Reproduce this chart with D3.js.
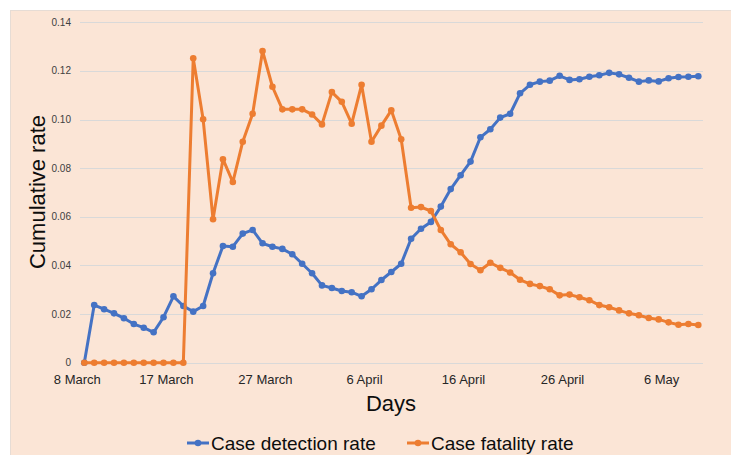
<!DOCTYPE html>
<html>
<head>
<meta charset="utf-8">
<script src="https://cdn.jsdelivr.net/npm/d3@7/dist/d3.min.js"></script>
<style>
  body { margin: 0; background: #fff; }
  svg { display: block; font-family: "Liberation Sans", Arial, sans-serif; }
</style>
</head>
<body>
<div id="chart"></div>
<script>
// daily values, 8 March .. 9 May (63 days)
var detectionRate = [
  0, 0.0237, 0.0220, 0.0203, 0.0183, 0.0159, 0.0144, 0.0125, 0.0187, 0.0273,
  0.0233, 0.0210, 0.0233, 0.0368, 0.0480, 0.0477, 0.0531, 0.0546, 0.0491, 0.0477,
  0.0468, 0.0446, 0.0407, 0.0368, 0.0318, 0.0307, 0.0295, 0.0290, 0.0273, 0.0302,
  0.0340, 0.0373, 0.0407, 0.0510, 0.0551, 0.0579, 0.0642, 0.0714, 0.0771, 0.0827,
  0.0927, 0.0960, 0.1008, 0.1024, 0.1108, 0.1143, 0.1156, 0.1160, 0.1180, 0.1163,
  0.1166, 0.1176, 0.1182, 0.1192, 0.1186, 0.1172, 0.1156, 0.1161, 0.1157, 0.1170,
  0.1175, 0.1176, 0.1178
];

var fatalityRate = [
  0, 0, 0, 0, 0, 0, 0, 0, 0, 0,
  0, 0.1252, 0.1001, 0.0590, 0.0837, 0.0743, 0.0909, 0.1024, 0.1282, 0.1135,
  0.1042, 0.1042, 0.1042, 0.1021, 0.0980, 0.1113, 0.1073, 0.0983, 0.1143, 0.0909,
  0.0975, 0.1038, 0.0919, 0.0637, 0.0640, 0.0624, 0.0546, 0.0487, 0.0454, 0.0406,
  0.0380, 0.0411, 0.0390, 0.0371, 0.0341, 0.0324, 0.0315, 0.0302, 0.0277, 0.0280,
  0.0269, 0.0257, 0.0237, 0.0228, 0.0215, 0.0203, 0.0195, 0.0184, 0.0178, 0.0166,
  0.0156, 0.0159, 0.0155
];

var tickLabels = ['8 March', '17 March', '27 March', '6 April', '16 April', '26 April', '6 May'];
var tickDays = [0, 9, 19, 29, 39, 49, 59];
var yTicks = [0, 0.02, 0.04, 0.06, 0.08, 0.10, 0.12, 0.14];

var series = [
  { name: 'Case detection rate', values: detectionRate, color: '#4472C4' },
  { name: 'Case fatality rate', values: fatalityRate, color: '#ED7D31' }
];

var width = 731, height = 455;

var svg = d3.select('#chart')
            .append('svg')
            .attr('width', width)
            .attr('height', height);

// panel
svg.append('rect')
   .attr('x', 10.5)
   .attr('y', 10.5)
   .attr('width', 740)
   .attr('height', 460)
   .attr('fill', '#FBE5D6')
   .attr('stroke', '#E6DCD5');

var x = d3.scaleLinear().domain([0, detectionRate.length - 1]).range([84.3, 698.3]);
var y = d3.scaleLinear().domain([0, 0.14]).range([362.7, 22.3]);

// gridlines + y labels
var grid = svg.append('g');
grid.selectAll('line')
    .data(yTicks)
    .enter()
    .append('line')
    .attr('x1', 80)
    .attr('x2', 703)
    .attr('y1', function(d) { return Math.round(y(d)) + 0.5; })
    .attr('y2', function(d) { return Math.round(y(d)) + 0.5; })
    .attr('stroke', '#D9D9D9')
    .attr('stroke-width', 1);

grid.selectAll('text')
    .data(yTicks)
    .enter()
    .append('text')
    .attr('x', 71)
    .attr('y', function(d) { return y(d); })
    .attr('dy', '0.35em')
    .attr('text-anchor', 'end')
    .attr('font-size', 10)
    .attr('fill', '#404040')
    .text(function(d) { return d === 0 ? '0' : d3.format('.2f')(d); });

// x labels
svg.append('g')
   .selectAll('text')
   .data(tickDays)
   .enter()
   .append('text')
   .attr('x', function(d) { return x(d); })
   .attr('dx', -7)
   .attr('y', 384)
   .attr('text-anchor', 'middle')
   .attr('font-size', 13)
   .attr('fill', '#262626')
   .text(function(d, i) { return tickLabels[i]; });

// lines
var line = d3.line()
             .x(function(d, i) { return x(i); })
             .y(function(d) { return y(d); });

series.forEach(function(s) {
  var g = svg.append('g');
  g.append('path')
   .datum(s.values)
   .attr('d', line)
   .attr('fill', 'none')
   .attr('stroke', s.color)
   .attr('stroke-width', 3)
   .attr('stroke-linejoin', 'round');
  g.selectAll('circle')
   .data(s.values)
   .enter()
   .append('circle')
   .attr('cx', function(d, i) { return x(i); })
   .attr('cy', function(d) { return y(d); })
   .attr('r', 3.3)
   .attr('fill', s.color);
});

// axis titles
svg.append('text')
   .attr('transform', 'translate(45,192) rotate(-90)')
   .attr('text-anchor', 'middle')
   .attr('font-size', 22)
   .attr('fill', '#0D0D0D')
   .text('Cumulative rate');

svg.append('text')
   .attr('x', 391)
   .attr('y', 411)
   .attr('text-anchor', 'middle')
   .attr('font-size', 22)
   .attr('fill', '#0D0D0D')
   .text('Days');

// legend
var legendX = [187, 407];
var legend = svg.append('g');
series.forEach(function(s, i) {
  var lx = legendX[i];
  legend.append('line')
        .attr('x1', lx).attr('x2', lx + 22)
        .attr('y1', 443).attr('y2', 443)
        .attr('stroke', s.color)
        .attr('stroke-width', 3);
  legend.append('circle')
        .attr('cx', lx + 11).attr('cy', 443)
        .attr('r', 3.3)
        .attr('fill', s.color);
  legend.append('text')
        .attr('x', lx + 24)
        .attr('y', 450)
        .attr('font-size', 19)
        .attr('fill', '#0D0D0D')
        .text(s.name);
});
</script>
</body>
</html>
